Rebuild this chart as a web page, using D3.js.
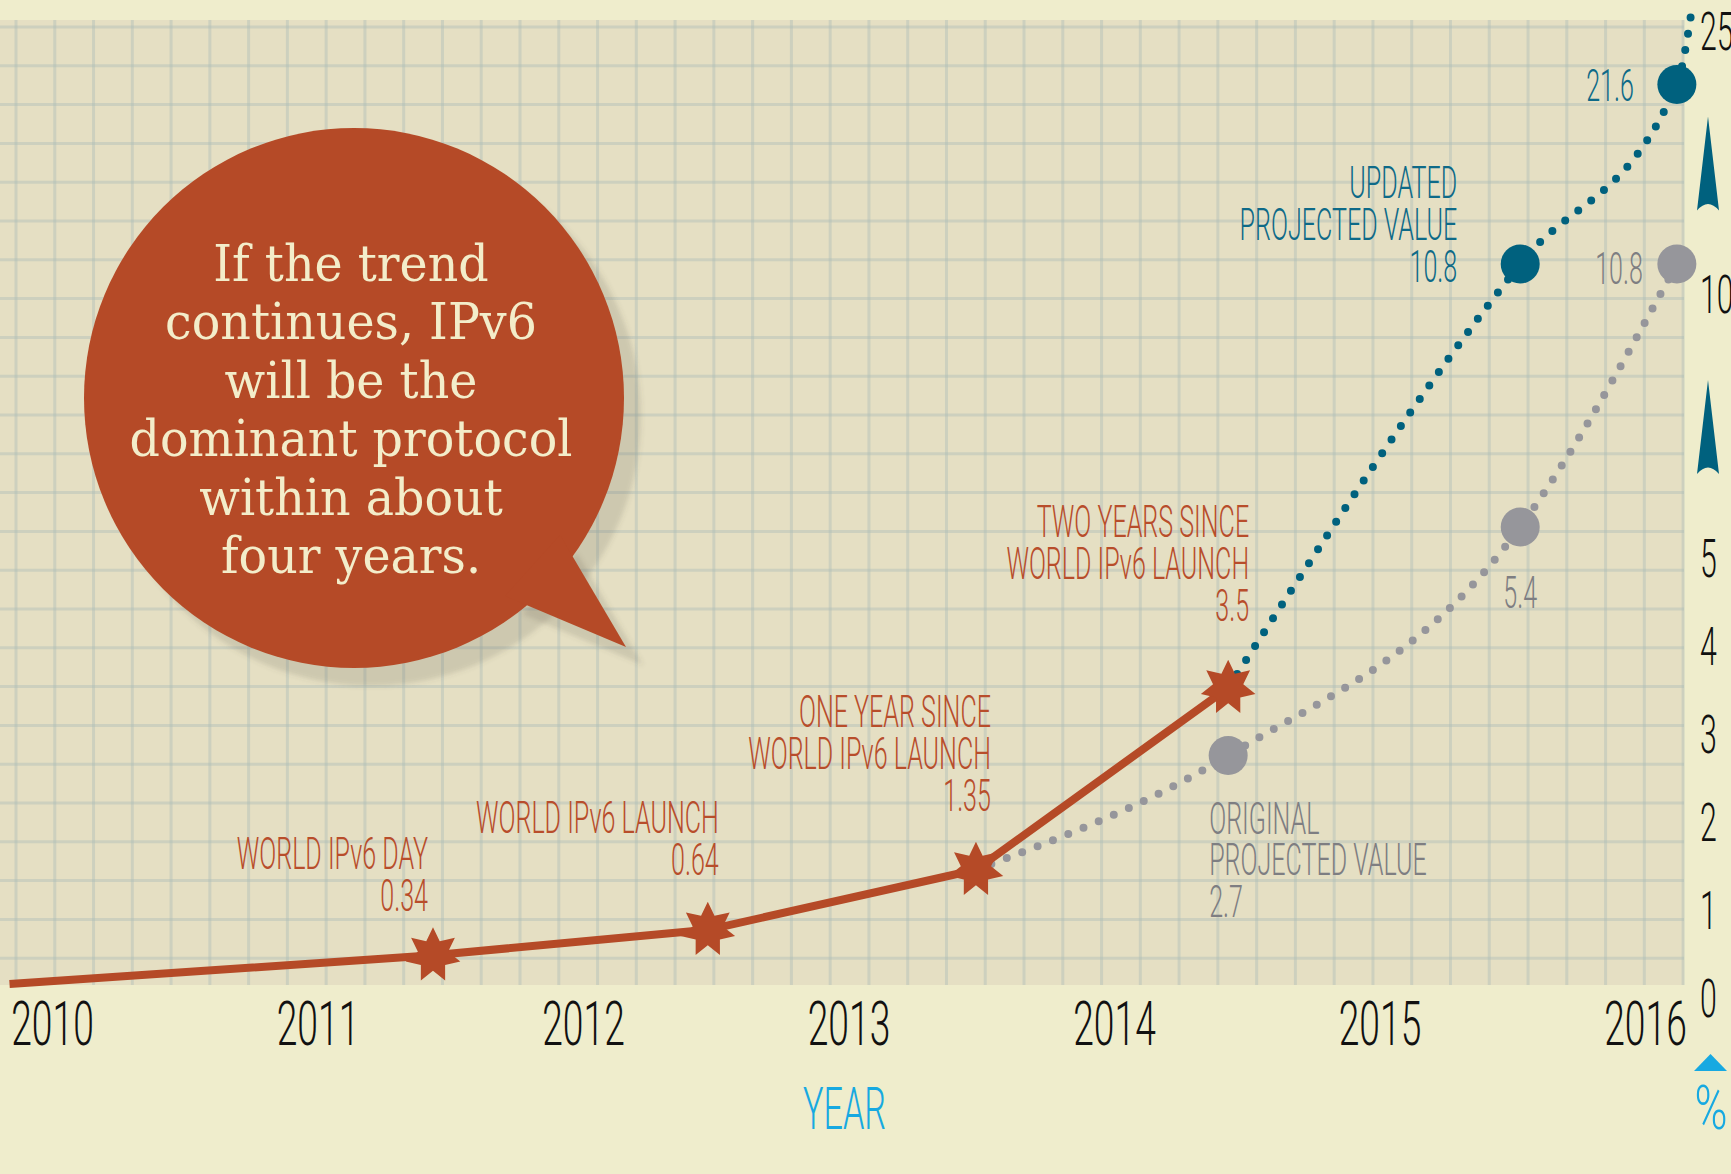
<!DOCTYPE html>
<html>
<head>
<meta charset="utf-8">
<script src="https://cdn.jsdelivr.net/npm/d3@7"></script>
<style>
  body { margin: 0; background: #efedcc; }
  svg { display: block; }
</style>
</head>
<body>
<script>
// values; x is a fractional year
const years = [2010, 2011, 2012, 2013, 2014, 2015, 2016];
const valueTicks = [0, 1, 2, 3, 4, 5, 10, 25];

const actualYears = [2009.84, 2011.435, 2012.47, 2013.48, 2014.43];
const actualValues = [0, 0.34, 0.64, 1.35, 3.5];

const originalYears = [2013.48, 2014.43, 2015.53, 2016.12];
const originalValues = [1.35, 2.7, 5.4, 10.8];

const updatedYears = [2014.43, 2015.53, 2016.12, 2016.18];
const updatedValues = [3.5, 10.8, 21.6, 26.5];

const milestoneLabels = [
  ["WORLD IPv6 DAY", "0.34"],
  ["WORLD IPv6 LAUNCH", "0.64"],
  ["ONE YEAR SINCE", "WORLD IPv6 LAUNCH", "1.35"],
  ["TWO YEARS SINCE", "WORLD IPv6 LAUNCH", "3.5"],
];
const updatedLabel = ["UPDATED", "PROJECTED VALUE", "10.8"];
const originalLabel = ["ORIGINAL", "PROJECTED VALUE", "2.7"];

const bubbleText = [
  "If the trend",
  "continues, IPv6",
  "will be the",
  "dominant protocol",
  "within about",
  "four years.",
];

const width = 1731;
const height = 1174;
const red = "#b54a27";
const teal = "#00617e";
const gray = "#96969b";
const cyan = "#17a9e1";
const condensedFont = "Roboto, 'Liberation Sans', sans-serif";
const squeeze = 0.57; // the original uses a very narrow typeface

const svg = d3
  .select("body")
  .append("svg")
  .attr("width", width)
  .attr("height", height);

// Graph paper
const plot = { left: 0, right: 1684, top: 20, bottom: 985 };
svg
  .append("rect")
  .attr("x", plot.left)
  .attr("y", plot.top)
  .attr("width", plot.right - plot.left)
  .attr("height", plot.bottom - plot.top)
  .attr("fill", "#e5dfc3");

const grid = svg
  .append("g")
  .attr("stroke", "rgb(172,188,184)")
  .attr("stroke-opacity", 0.42)
  .attr("stroke-width", 3);
grid
  .selectAll(".v")
  .data(d3.range(16, plot.right, 38.77))
  .enter()
  .append("line")
  .attr("x1", (d) => d)
  .attr("x2", (d) => d)
  .attr("y1", plot.top)
  .attr("y2", plot.bottom);
grid
  .selectAll(".h")
  .data(d3.range(27, plot.bottom, 38.8))
  .enter()
  .append("line")
  .attr("y1", (d) => d)
  .attr("y2", (d) => d)
  .attr("x1", plot.left)
  .attr("x2", plot.right);

// Scales. The value axis is broken above 5, so it is piecewise
const xScale = d3.scaleLinear().domain([2010, 2016]).range([52, 1645]);
const yScale = d3
  .scaleLinear()
  .domain([0, 5.4, 10.8, 25])
  .range([984, 527, 264, 28]);
// tick labels in the original sit a little below their data level
const tickScale = d3
  .scaleLinear()
  .domain([0, 5, 10, 25])
  .range([999, 559, 295, 32]);

// Speech bubble
const bubble = { cx: 354, cy: 398, r: 270 };
const tail = "M560,535 L626,647 L505,596 Z";
const defs = svg.append("defs");
defs
  .append("filter")
  .attr("id", "soft")
  .append("feGaussianBlur")
  .attr("stdDeviation", 2.5);

const shadow = svg
  .append("g")
  .attr("transform", "translate(17,18)")
  .attr("fill", "rgb(90,85,70)")
  .attr("fill-opacity", 0.17)
  .attr("filter", "url(#soft)");
shadow.append("circle").attr("cx", bubble.cx).attr("cy", bubble.cy).attr("r", bubble.r);
shadow.append("path").attr("d", tail);

svg
  .append("circle")
  .attr("cx", bubble.cx)
  .attr("cy", bubble.cy)
  .attr("r", bubble.r)
  .attr("fill", red);
svg.append("path").attr("d", tail).attr("fill", red);

const quote = svg
  .append("text")
  .attr("font-family", "'DejaVu Serif', 'Liberation Serif', serif")
  .attr("font-size", 51)
  .attr("fill", "#f3edca")
  .attr("text-anchor", "middle");
quote
  .selectAll("tspan")
  .data(bubbleText)
  .enter()
  .append("tspan")
  .attr("x", 0)
  .attr("y", (d, i) => i * 58.5)
  .text((d) => d);
// fit the widest line to the width it has in the original
const widest = d3.max(quote.selectAll("tspan").nodes(), (n) => n.getComputedTextLength());
quote.attr("transform", `translate(351,281) scale(${443 / widest},1)`);

// Lines
const dotted = d3
  .line()
  .x((d) => xScale(d[0]))
  .y((d) => yScale(d[1]))
  .curve(d3.curveMonotoneX);

svg
  .append("path")
  .datum(d3.zip(originalYears, originalValues))
  .attr("d", dotted)
  .attr("fill", "none")
  .attr("stroke", gray)
  .attr("stroke-width", 8)
  .attr("stroke-linecap", "round")
  .attr("stroke-dasharray", "0 16.5");

svg
  .append("path")
  .datum(d3.zip(updatedYears, updatedValues))
  .attr("d", dotted)
  .attr("fill", "none")
  .attr("stroke", teal)
  .attr("stroke-width", 8)
  .attr("stroke-linecap", "round")
  .attr("stroke-dasharray", "0 16.5");

svg
  .append("path")
  .datum(d3.zip(actualYears, actualValues))
  .attr("d", d3.line().x((d) => xScale(d[0])).y((d) => yScale(d[1])))
  .attr("fill", "none")
  .attr("stroke", red)
  .attr("stroke-width", 8)
  .attr("stroke-linejoin", "round");

// Seven-pointed stars on the measured values
function starPath(R, r, n) {
  const pts = d3.range(2 * n).map((i) => {
    const a = (i * Math.PI) / n;
    const rad = i % 2 ? r : R;
    return [rad * Math.sin(a), -rad * Math.cos(a)];
  });
  return "M" + pts.join("L") + "Z";
}

const stars = d3.zip(actualYears, actualValues).slice(1);
svg
  .selectAll(".star")
  .data(stars)
  .enter()
  .append("path")
  .attr("class", "star")
  .attr("transform", (d) => `translate(${xScale(d[0])},${yScale(d[1])})`)
  .attr("d", starPath(28, 15.5, 7))
  .attr("fill", red);

// Projection points
svg
  .selectAll(".orig")
  .data(d3.zip(originalYears, originalValues).slice(1))
  .enter()
  .append("circle")
  .attr("cx", (d) => xScale(d[0]))
  .attr("cy", (d) => yScale(d[1]))
  .attr("r", 19.5)
  .attr("fill", gray);

svg
  .selectAll(".upd")
  .data(d3.zip(updatedYears, updatedValues).slice(1, 3))
  .enter()
  .append("circle")
  .attr("cx", (d) => xScale(d[0]))
  .attr("cy", (d) => yScale(d[1]))
  .attr("r", 19.5)
  .attr("fill", teal);

// Annotations
function label(x, y, lines, color, anchor, size, k) {
  const g = svg
    .append("g")
    .attr("transform", `translate(${x},${y}) scale(${k || squeeze},1)`);
  g.selectAll("text")
    .data(lines)
    .enter()
    .append("text")
    .attr("y", (d, i) => i * 42)
    .attr("text-anchor", anchor)
    .attr("font-family", condensedFont)
    .attr("font-weight", 300)
    .attr("font-size", size || 44)
    .attr("fill", color)
    .text((d) => d);
}

// [dx, dy of the first baseline] from each star
const milestoneOffsets = [
  [-5, -86],
  [11, -97],
  [15, -143],
  [21, -151],
];
milestoneLabels.forEach((lines, i) => {
  const [yr, v] = stars[i];
  const [dx, dy] = milestoneOffsets[i];
  label(xScale(yr) + dx, yScale(v) + dy, lines, "#b84d2b", "end");
});

label(xScale(updatedYears[1]) - 63, yScale(updatedValues[1]) - 66, updatedLabel, "#0e6a88", "end");
label(xScale(updatedYears[2]) - 43, yScale(updatedValues[2]) + 16, [String(updatedValues[2])], "#0e6a88", "end");
label(xScale(originalYears[3]) - 34, yScale(originalValues[3]) + 20, [String(originalValues[3])], "#7e7e82", "end");
label(xScale(originalYears[2]), yScale(originalValues[2]) + 81, [String(originalValues[2])], "#7e7e82", "middle");
label(xScale(originalYears[1]) - 19, yScale(originalValues[1]) + 78, originalLabel, "#7e7e82", "start");

// Axes
const xAxis = svg
  .append("g")
  .attr("transform", "translate(0,1002)")
  .call(d3.axisBottom(xScale).tickValues(years).tickFormat(d3.format("d")).tickSize(0).tickPadding(0));
xAxis.select(".domain").remove();
xAxis
  .selectAll("text")
  .attr("font-family", condensedFont)
  .attr("font-weight", 300)
  .attr("font-size", 61)
  .attr("fill", "#111")
  .attr("transform", "scale(0.61,1)");

const yAxis = svg
  .append("g")
  .attr("transform", "translate(1700,0)")
  .call(d3.axisRight(tickScale).tickValues(valueTicks).tickSize(0).tickPadding(0));
yAxis.select(".domain").remove();
yAxis
  .selectAll("text")
  .attr("font-family", condensedFont)
  .attr("font-weight", 300)
  .attr("font-size", 54)
  .attr("fill", "#111")
  .attr("transform", "scale(0.56,1)");

// Break arrows between the widely spaced ticks
[[10, 25], [5, 10]].forEach(([a, b]) => {
  const mid = (tickScale(a) + tickScale(b)) / 2;
  const top = mid - 47;
  const bottom = mid + 47;
  const cx = 1708;
  svg
    .append("path")
    .attr("d", `M${cx},${top} L${cx + 11},${bottom} Q${cx},${bottom - 13} ${cx - 11},${bottom} Z`)
    .attr("fill", teal);
});

// Axis titles
label(xScale(2013) - 4, 1129, ["YEAR"], cyan, "middle", 59, 0.58);
svg
  .append("path")
  .attr("d", "M1694,1071 L1727,1071 L1710.5,1054 Z")
  .attr("fill", cyan);
svg
  .append("text")
  .attr("transform", "translate(1711,1129) scale(0.72,1)")
  .attr("text-anchor", "middle")
  .attr("font-family", condensedFont)
  .attr("font-weight", 300)
  .attr("font-size", 62)
  .attr("fill", cyan)
  .text("%");
</script>
</body>
</html>
